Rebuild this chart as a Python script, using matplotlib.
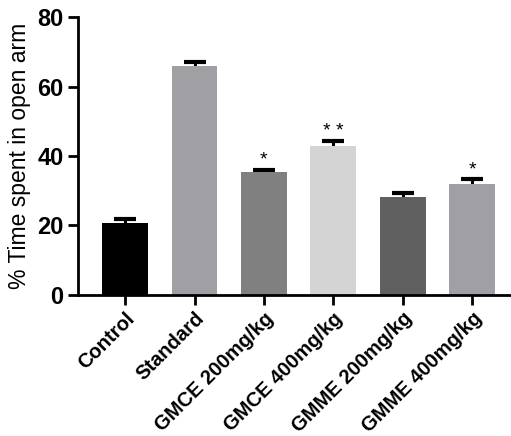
import matplotlib
matplotlib.use("Agg")
import matplotlib.pyplot as plt
import numpy as np

# data
groups = ["Control", "Standard", "GMCE 200mg/kg", "GMCE 400mg/kg", "GMME 200mg/kg", "GMME 400mg/kg"]
means = [20.7, 66.0, 35.4, 43.0, 28.1, 31.8]
sems = [1.3, 1.1, 0.6, 1.3, 1.3, 1.5]
signif = ["", "", "*", "* *", "", "*"]
colors = ["#000000", "#a0a0a4", "#808080", "#d4d4d4", "#606060", "#a0a0a4"]

plt.rcParams['font.family'] = ['Liberation Sans', 'DejaVu Sans']

fig = plt.figure(figsize=(5.11, 4.36), dpi=100)
ax = fig.add_axes([0.1526, 0.3234, 0.8474, 0.6376])

x = np.arange(len(groups))
# error bars behind the bars so only the upper half shows
ax.errorbar(x, means, yerr=sems, fmt="none",
            ecolor="black", elinewidth=2.2, capsize=8, capthick=3, zorder=1)
ax.bar(x, means, width=0.66, color=colors, zorder=2)

for xi, m, s, lab in zip(x, means, sems, signif):
    if lab:
        ax.text(xi, m + s + 0.3, lab, ha="center", va="bottom", fontsize=14)

ax.set_xlim(-0.68, 5.56)
ax.set_ylim(0, 80)
ax.set_yticks([0, 20, 40, 60, 80])
ax.set_xticks(x)
ax.set_xticklabels(groups, rotation=45, ha="right", rotation_mode="anchor",
                   fontsize=14.5, fontweight="bold")
for t in ax.get_yticklabels():
    t.set_fontsize(17)
    t.set_fontweight("bold")
ax.set_ylabel("% Time spent in open arm", fontsize=16.5, labelpad=4)

ax.spines["top"].set_visible(False)
ax.spines["right"].set_visible(False)
ax.spines["left"].set_linewidth(2)
ax.spines["bottom"].set_linewidth(2)
ax.tick_params(axis="both", width=2, length=7, direction="out")
ax.tick_params(axis="x", pad=3)

fig.savefig("out.png", dpi=100)
